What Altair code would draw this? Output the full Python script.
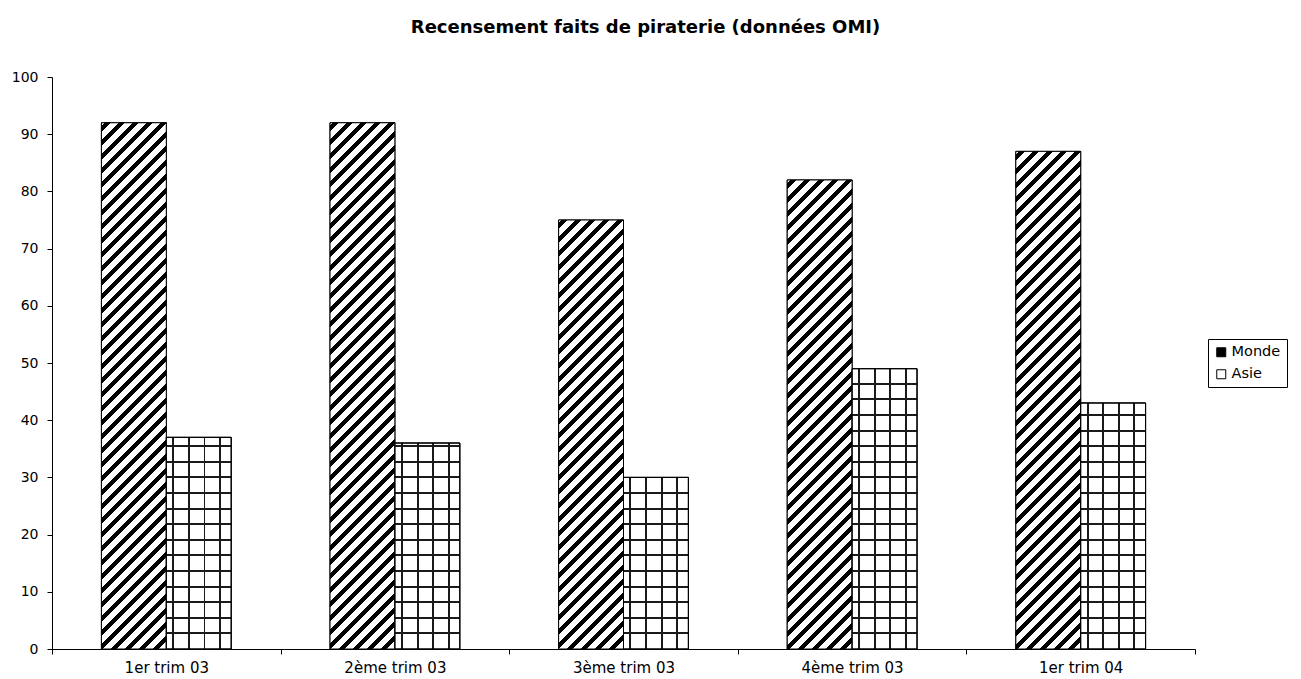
import altair as alt
import pandas as pd

# ---- data ----
categories = ["1er trim 03", "2ème trim 03", "3ème trim 03", "4ème trim 03", "1er trim 04"]
series = ["Monde", "Asie"]
monde = [92, 92, 75, 82, 87]
asie = [37, 36, 30, 49, 43]
y_ticks = [0, 10, 20, 30, 40, 50, 60, 70, 80, 90, 100]

rows = []
for c, m, a in zip(categories, monde, asie):
    rows.append({"trim": c, "serie": "Monde", "n": m})
    rows.append({"trim": c, "serie": "Asie", "n": a})
df = pd.DataFrame(rows)

# ---- layout ----
W, H = 1143, 572
PAD_OUTER = 0.762
step = W / len(categories)
bar_w = step / (2 + 2 * PAD_OUTER)
FONT = "DejaVu Sans"


def px_h(v):
    return v / 100.0 * H


def stop(o, c):
    return {"offset": round(max(0.0, min(1.0, o)), 5), "color": c}


def diag_gradient(v):
    """'/' hatching at 45 degrees in pixel space (objectBoundingBox corrected)."""
    w, h = bar_w, px_h(v)
    k = (w + h) / (w * w + h * h)
    total = w + h
    P, B = 14.0, 6.0
    stops = []
    s = 3.0
    stops.append(stop(0, "white"))
    while s < total:
        o1, o2 = s / total, (s + B) / total
        stops += [stop(o1, "white"), stop(o1, "black"), stop(o2, "black"), stop(o2, "white")]
        s += P
    stops.append(stop(1, "white"))
    return {"gradient": "linear", "stops": stops, "x1": 0, "y1": 0, "x2": k * w, "y2": k * h}


def vertical_lines_gradient():
    w = bar_w
    P, L = 15.6, 2.0
    stops = [stop(0, "white")]
    x = 6.0
    while x + L < w:
        stops += [stop(x / w, "white"), stop(x / w, "#1a1a1a"),
                  stop((x + L) / w, "#1a1a1a"), stop((x + L) / w, "white")]
        x += P
    stops.append(stop(1, "white"))
    return {"gradient": "linear", "stops": stops, "x1": 0, "y1": 0, "x2": 1, "y2": 0}


def horizontal_lines_gradient(v):
    h = px_h(v)
    P, L = 15.6, 2.0
    clear = "rgba(0,0,0,0)"
    stops = [stop(0, clear)]
    d = P
    while d + L / 2 < h:
        a, b = (d - L / 2) / h, (d + L / 2) / h
        stops += [stop(a, clear), stop(a, "#1a1a1a"), stop(b, "#1a1a1a"), stop(b, clear)]
        d += P
    stops.append(stop(1, clear))
    return {"gradient": "linear", "stops": stops, "x1": 0, "y1": 1, "x2": 0, "y2": 0}


X = alt.X(
    "trim:N",
    scale=alt.Scale(domain=categories, paddingInner=0, paddingOuter=0),
    axis=alt.Axis(title=None, labelAngle=0, tickBand="extent", tickSize=5,
                  labelPadding=6, labelFontSize=15),
)
XO = alt.XOffset("serie:N", scale=alt.Scale(domain=series, paddingInner=0, paddingOuter=PAD_OUTER))
Y = alt.Y(
    "n:Q",
    scale=alt.Scale(domain=[0, 100], nice=False, zero=True),
    axis=alt.Axis(title=None, values=y_ticks, tickSize=5, labelPadding=9, labelFontSize=14),
)

base = alt.Chart(df).mark_bar(stroke="black", strokeWidth=1).encode(
    x=X, xOffset=XO, y=Y,
    color=alt.Color(
        "serie:N",
        scale=alt.Scale(domain=series, range=["black", "white"]),
        legend=alt.Legend(
            title=None, orient="none", legendX=1156, legendY=262,
            symbolType="square", symbolSize=81, symbolStrokeColor="black",
            symbolStrokeWidth=1, labelFont=FONT, labelFontSize=14.5, labelColor="black",
            padding=6, strokeColor="black", fillColor="white", rowPadding=7, labelOffset=3,
        ),
    ),
)

layers = [base]

# Monde hatching, one layer per bar (gradient depends on bar size)
for c, v in zip(categories, monde):
    layers.append(
        alt.Chart(df)
        .transform_filter(f"datum.trim === '{c}' && datum.serie === 'Monde'")
        .mark_bar(stroke="black", strokeWidth=1, fill=diag_gradient(v))
        .encode(x=X, xOffset=XO, y=Y)
    )

# Asie grid: vertical lines (same for all bars)
layers.append(
    alt.Chart(df)
    .transform_filter("datum.serie === 'Asie'")
    .mark_bar(stroke="black", strokeWidth=1, fill=vertical_lines_gradient())
    .encode(x=X, xOffset=XO, y=Y)
)
# Asie grid: horizontal lines (per bar)
for c, v in zip(categories, asie):
    layers.append(
        alt.Chart(df)
        .transform_filter(f"datum.trim === '{c}' && datum.serie === 'Asie'")
        .mark_bar(stroke="black", strokeWidth=1, fill=horizontal_lines_gradient(v))
        .encode(x=X, xOffset=XO, y=Y)
    )

chart = (
    alt.layer(*layers)
    .properties(
        width=W,
        height=H,
        autosize=alt.AutoSizeParams(type="none"),
        padding={"left": 44, "top": 69, "right": 97, "bottom": 27},
        title=alt.TitleParams(
            "Recensement faits de piraterie (données OMI)",
            font=FONT, fontSize=18, fontWeight="bold", color="black",
            anchor="middle", frame="group", baseline="alphabetic", offset=19, dx=22,
        ),
    )
    .configure_axis(
        labelFont=FONT, labelColor="black", domainColor="black", tickColor="black",
        domainWidth=1, tickWidth=1, grid=False,
    )
    .configure_view(strokeWidth=0)
)

chart.save("out.html", embed_options={"renderer": "svg", "actions": False})
